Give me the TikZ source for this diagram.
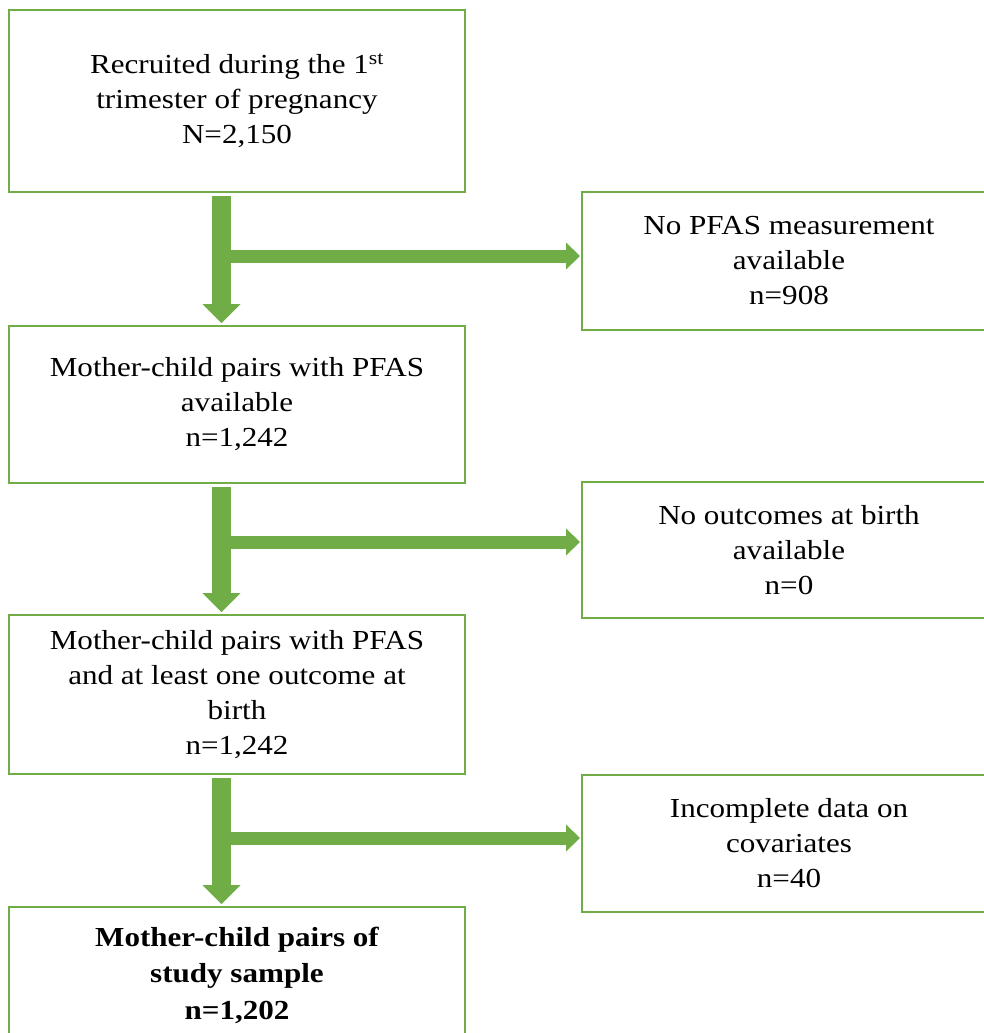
\documentclass[tikz,border=0pt]{standalone}
\usepackage{fontspec}
\setmainfont{Liberation Serif}[FakeStretch=1.13]
\usepackage{tikz}
\usetikzlibrary{arrows.meta,positioning}
\definecolor{flowgreen}{HTML}{70AD47}

\begin{document}
\begin{tikzpicture}[x=1pt,y=-1pt]

\tikzset{box/.style={draw=flowgreen,line width=2pt,minimum width=456pt,inner sep=0pt,align=center,
                font=\fontsize{27.5}{35}\selectfont},
            sidebox/.style={box,minimum width=414pt},
            downflow/.style={draw=flowgreen,line width=19pt,-{Triangle[width=38pt,length=19pt,line width=0pt]}},
            sideflow/.style={draw=flowgreen,line width=13pt,shorten >=1pt,-{Triangle[width=27pt,length=14pt,line width=0pt]}}}
\useasboundingbox (0,0) rectangle (984,1033);
\clip (0,0) rectangle (984,1033);

\node[box,minimum height=182pt] (recruit) at (237,101) {Recruited during the 1\textsuperscript{st}\\trimester of pregnancy\\N=2,150};
\node[box,minimum height=157pt] (pfas) at (237,404.5) {Mother-child pairs with PFAS\\available\\n=1,242};
\node[box,minimum height=159pt] (outcome) at (237,694.5) {Mother-child pairs with PFAS\\and at least one outcome at\\birth\\n=1,242};
\node[box,minimum height=136pt,font=\fontsize{27.5}{36.5}\selectfont\bfseries] (sample) at (237,975) {Mother-child pairs of\\study sample\\n=1,202};

\node[sidebox,minimum height=138pt] (nopfas) at (789,261) {No PFAS measurement\\available\\n=908};
\node[sidebox,minimum height=136pt] (nobirth) at (789,550) {No outcomes at birth\\available\\n=0};
\node[sidebox,minimum height=137pt] (nocov) at (789,843.5) {Incomplete data on\\covariates\\n=40};

\coordinate (split1) at (221.5,256);
\coordinate (split2) at (221.5,542);
\coordinate (split3) at (221.5,838);

\draw[downflow] ([xshift=-15.5pt,yshift=-3pt]recruit.south) -- ([xshift=-15.5pt,yshift=2pt]pfas.north);
\draw[downflow] ([xshift=-15.5pt,yshift=-3pt]pfas.south) -- ([xshift=-15.5pt,yshift=2pt]outcome.north);
\draw[downflow] ([xshift=-15.5pt,yshift=-3pt]outcome.south) -- ([xshift=-15.5pt,yshift=2pt]sample.north);

\draw[sideflow] (split1) -- (split1 -| nopfas.west);
\draw[sideflow] (split2) -- (split2 -| nobirth.west);
\draw[sideflow] (split3) -- (split3 -| nocov.west);
\end{tikzpicture}
\end{document}
